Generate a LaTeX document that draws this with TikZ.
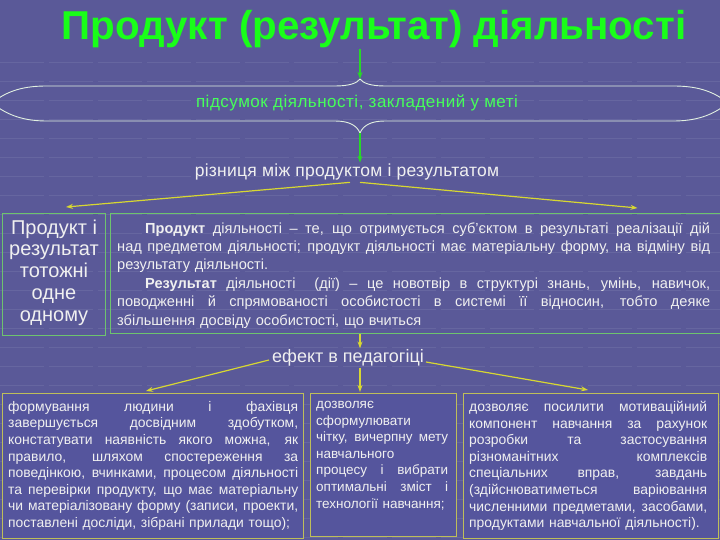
\documentclass[tikz,border=0pt]{standalone}
\usepackage{fontspec}
\setmainfont{Liberation Sans}
\usetikzlibrary{arrows.meta,calc}
\definecolor{bg}{RGB}{90,89,152}
\definecolor{titlegreen}{RGB}{25,255,25}
\definecolor{arrgreen}{RGB}{40,215,40}
\definecolor{subgreen}{RGB}{70,255,90}
\definecolor{arryellow}{RGB}{215,215,50}
\definecolor{boxgreen}{RGB}{110,195,110}
\definecolor{boxyellow}{RGB}{190,190,90}
\definecolor{txt}{RGB}{240,240,240}
\definecolor{bracecol}{RGB}{225,240,225}
\newcommand\jw{100pt}
\newcommand\jline[1]{{\spaceskip=0pt\xspaceskip=0pt\makebox[\jw][s]{#1}}\\}
\begin{document}
\begin{tikzpicture}[x=1pt,y=-1pt,
  garrow/.style={draw=arrgreen, line width=1.2pt, -{Stealth[length=7pt,width=5pt]}},
  yarrow/.style={draw=arryellow, line width=1.2pt, -{Stealth[length=7pt,width=5pt]}},
  topbox/.style={draw=boxgreen, line width=1pt, inner sep=0pt, anchor=north west},
  botbox/.style={draw=boxyellow, line width=1pt, fill=bg!95!blue, inner sep=0pt, anchor=north west},
  bodytext/.style={text=txt, inner sep=0pt, anchor=north west, align=left, font=\fontsize{13.9}{16.6}\selectfont},
  gridline/.style={draw=white, opacity=0.08, line width=0.8pt, dash pattern=on 44pt off 5pt},
]
\fill[bg] (0,0) rectangle (720,540);
\useasboundingbox (0,0) rectangle (720,540);
\foreach \yy in {62,81,100,119,138,157,176,195,214,233,252,271,290,309,328,347,366,385,404,423,442,461,480,499,518,537}
  \draw[gridline] (0,\yy) -- (720,\yy);

% title
\node[font=\fontsize{40.3}{46}\selectfont\bfseries, text=titlegreen, anchor=base, inner sep=0pt] (title) at (374,40) {Продукт (результат) діяльності};

% brace
\coordinate (btop) at (360,79);
\coordinate (bbot) at (360,133);
\draw[bracecol, line width=0.9pt]
  (-8,103) .. controls (8,90) and (25,86) .. (47,86) -- (335,86)
  .. controls (350,86) and (357,83) .. (btop)
  .. controls (363,83) and (370,86) .. (385,86) -- (673,86)
  .. controls (695,86) and (712,90) .. (728,103)
  (-8,103) .. controls (8,116) and (25,121) .. (47,121) -- (335,121)
  .. controls (350,121) and (357,126) .. (bbot)
  .. controls (363,126) and (370,121) .. (385,121) -- (673,121)
  .. controls (695,121) and (712,116) .. (728,103);
\draw[garrow] (title.south -| btop) -- (btop);

\node[text=subgreen, font=\fontsize{17}{19}\selectfont\addfontfeature{LetterSpace=3}, inner sep=0pt] (sub) at (357,103) {підсумок діяльності, закладений у меті};

\node[text=txt, font=\fontsize{17.5}{20}\selectfont\addfontfeature{LetterSpace=1.5}, inner sep=1pt] (diff) at (347,172) {різниця між продуктом і результатом};
\draw[garrow] (bbot) -- (bbot |- diff.north);

% top boxes
\node[topbox, minimum width=103pt, minimum height=122pt] (lbox) at (2,213) {};
\node[topbox, minimum width=610pt, minimum height=120pt] (mbox) at (110,213) {};
\node[text=txt, align=center, inner sep=0pt, font=\fontsize{20}{21.7}\selectfont] (ltext) at ($(lbox.center)+(0,-2)$) {Продукт і\\результат\\тотожні\\одне\\одному};
\node[bodytext, text width=593pt, font=\fontsize{14.6}{18.4}\selectfont] (mtext) at ($(mbox.north west)+(7,9)$) {%
\renewcommand\jw{593pt}%
\jline{\hspace*{28pt}\textbf{Продукт} діяльності – те, що отримується суб'єктом в результаті реалізації дій}
\jline{над предметом діяльності; продукт діяльності має матеріальну форму, на відміну від}
результату діяльності.\\
\jline{\hspace*{28pt}\textbf{Результат} діяльності \ (дії) – це новотвір в структурі знань, умінь, навичок,}
\jline{поводженні й спрямованості особистості в системі її відносин, тобто деяке}
збільшення досвіду особистості, що вчиться};

\draw[yarrow] ($(diff.south)+(3,1)$) -- ($(lbox.north)+(12,-6)$);
\draw[yarrow] ($(diff.south)+(13,1)$) -- ($(mbox.north)+(222,-5)$);

% effect
\node[text=txt, font=\fontsize{18}{20}\selectfont, inner sep=1pt] (eff) at (348,358) {ефект в педагогіці};
\draw[yarrow] (mbox.south -| bbot) -- (eff.north -| bbot);

% bottom boxes
\node[botbox, minimum width=301pt, minimum height=145pt] (b1) at (2,393) {};
\node[botbox, minimum width=146pt, minimum height=143pt] (b2) at (310,393) {};
\node[botbox, minimum width=255pt, minimum height=145pt] (b3) at (463,393) {};

\draw[yarrow] ($(eff.west)+(-2,2)$) -- ($(b1.north)+(-7,-2)$);
\draw[yarrow] (eff.south -| bbot) -- ($(b2.north -| bbot)+(0,-1)$);
\draw[yarrow] ($(eff.east)+(1,4)$) -- ($(b3.north)+(-3,-3)$);

\node[bodytext, text width=290pt] (t1) at ($(b1.north west)+(6,8)$) {%
\renewcommand\jw{290pt}%
\jline{формування людини і фахівця}
\jline{завершується досвідним здобутком,}
\jline{констатувати наявність якого можна, як}
\jline{правило, шляхом спостереження за}
\jline{поведінкою, вчинками, процесом діяльності}
\jline{та перевірки продукту, що має матеріальну}
\jline{чи матеріалізовану форму (записи, проекти,}
поставлені досліди, зібрані прилади тощо);};

\node[bodytext, text width=132pt, font=\fontsize{13.5}{16.6}\selectfont] (t2) at ($(b2.north west)+(6,8)$) {%
\renewcommand\jw{132pt}%
дозволяє\\
сформулювати\\
\jline{чітку, вичерпну мету}
навчального\\
\jline{процесу і вибрати}
\jline{оптимальні зміст і}
\mbox{технології навчання;}};

\node[bodytext, text width=238pt] (t3) at ($(b3.north west)+(6,8)$) {%
\renewcommand\jw{238pt}%
\jline{дозволяє посилити мотиваційний}
\jline{компонент навчання за рахунок}
\jline{розробки та застосування}
\jline{різноманітних комплексів}
\jline{спеціальних вправ, завдань}
\jline{(здійснюватиметься варіювання}
\jline{численними предметами, засобами,}
продуктами навчальної діяльності).};
\end{tikzpicture}
\end{document}
